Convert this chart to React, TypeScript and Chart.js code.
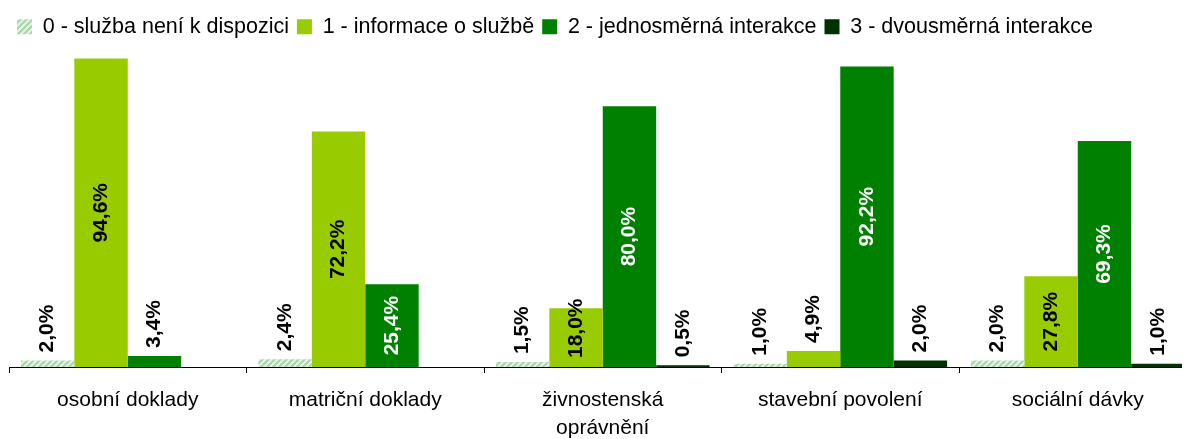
import React, { useEffect, useRef } from 'react';
import { Chart, registerables } from 'chart.js';

Chart.register(...registerables);

const categories: (string | string[])[] = [
  'osobní doklady',
  'matriční doklady',
  ['živnostenská', 'oprávnění'],
  'stavební povolení',
  'sociální dávky',
];

const seriesNames = [
  '0 - služba není k dispozici',
  '1 - informace o službě',
  '2 - jednosměrná interakce',
  '3 - dvousměrná interakce',
];

const level0: (number | null)[] = [2.0, 2.4, 1.5, 1.0, 2.0];
const level1: (number | null)[] = [94.6, 72.2, 18.0, 4.9, 27.8];
const level2: (number | null)[] = [3.4, 25.4, 80.0, 92.2, 69.3];
const level3: (number | null)[] = [null, null, 0.5, 2.0, 1.0];

const FONT = '"Liberation Sans", Arial, Helvetica, sans-serif';

function makeHatch(): CanvasPattern | string {
  const c = document.createElement('canvas');
  c.width = 6;
  c.height = 6;
  const g = c.getContext('2d');
  if (!g) return '#cfe8cf';
  g.fillStyle = '#e4f2e4';
  g.fillRect(0, 0, 6, 6);
  g.strokeStyle = '#a8d4a8';
  g.lineWidth = 2;
  g.beginPath();
  g.moveTo(-1, 7);
  g.lineTo(7, -1);
  g.moveTo(-4, 4);
  g.lineTo(4, -4);
  g.moveTo(2, 10);
  g.lineTo(10, 2);
  g.stroke();
  return g.createPattern(c, 'repeat') || '#cfe8cf';
}

const labelColors = ['#000000', '#000000', '#ffffff', '#ffffff'];

const labelPlugin = {
  id: 'barLabels',
  afterDatasetsDraw(chart: any) {
    const ctx: CanvasRenderingContext2D = chart.ctx;
    ctx.save();
    ctx.font = `bold 21px ${FONT}`;
    ctx.textBaseline = 'middle';
    ctx.textAlign = 'left';
    chart.data.datasets.forEach((ds: any, di: number) => {
      const meta = chart.getDatasetMeta(di);
      meta.data.forEach((bar: any, i: number) => {
        const v = ds.data[i];
        if (v == null) return;
        const text = v.toFixed(1).replace('.', ',') + '%';
        const w = ctx.measureText(text).width;
        const { x, y, base } = bar.getProps(['x', 'y', 'base'], true);
        let bottom: number;
        let color = '#000000';
        if (v >= 10) {
          const center = (y + base) / 2;
          bottom = Math.min(center + w / 2, base - 9);
          color = labelColors[di];
        } else {
          bottom = y - 8;
        }
        ctx.save();
        ctx.translate(x, bottom);
        ctx.rotate(-Math.PI / 2);
        ctx.fillStyle = color;
        ctx.fillText(text, 0, 0);
        ctx.restore();
      });
    });
    ctx.restore();
  },
};

export default function App() {
  const ref = useRef<HTMLCanvasElement | null>(null);

  useEffect(() => {
    document.documentElement.style.overflow = 'hidden';
    document.body.style.overflow = 'hidden';
    const canvas = ref.current;
    if (!canvas) return;
    const hatch = makeHatch();
    const colors: any[] = [hatch, '#99cc00', '#008000', '#003300'];
    const values = [level0, level1, level2, level3];
    const chart = new Chart(canvas, {
      type: 'bar',
      data: {
        labels: categories as any,
        datasets: values.map((d, i) => ({
          label: seriesNames[i],
          data: d,
          backgroundColor: colors[i],
          borderWidth: 0,
          categoryPercentage: 0.9,
          barPercentage: 1,
        })),
      },
      options: {
        responsive: false,
        animation: false,
        devicePixelRatio: 1,
        layout: { padding: { left: 1, right: 1.5, top: 0, bottom: 0 } },
        plugins: {
          legend: {
            display: true,
            position: 'top',
            align: 'start',
            labels: {
              boxWidth: 15,
              boxHeight: 15,
              padding: 8,
              color: '#000000',
              font: { family: FONT, size: 21.5 },
            },
          },
          tooltip: { enabled: false },
        },
        scales: {
          x: {
            grid: {
              offset: true,
              drawOnChartArea: false,
              drawTicks: true,
              tickLength: 6,
              color: '#000000',
              lineWidth: 1,
            },
            border: { display: true, color: '#000000', width: 1 },
            ticks: {
              color: '#000000',
              font: { family: FONT, size: 21, lineHeight: 1.33 },
              padding: 13,
              maxRotation: 0,
              autoSkip: false,
            },
            afterFit: (s: any) => {
              s.height = 72;
            },
          },
          y: {
            display: false,
            min: 0,
            max: 98,
          },
        },
      },
      plugins: [labelPlugin],
    });
    return () => chart.destroy();
  }, []);

  return (
    <div style={{ width: 1190, height: 431 }}>
      <canvas ref={ref} width={1190} height={431} style={{ display: 'block' }} />
    </div>
  );
}
